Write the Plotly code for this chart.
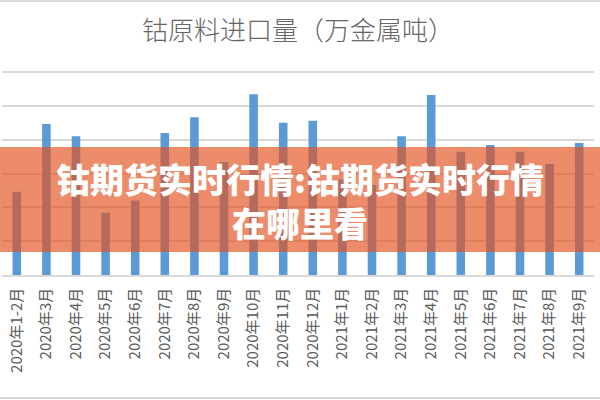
import plotly.graph_objects as go

categories = ["2020年1-2月", "2020年3月", "2020年4月", "2020年5月", "2020年6月",
              "2020年7月", "2020年8月", "2020年9月", "2020年10月", "2020年11月",
              "2020年12月", "2021年1月", "2021年2月", "2021年3月", "2021年4月",
              "2021年5月", "2021年6月", "2021年7月", "2021年8月", "2021年9月"]
imports = [1.23, 2.23, 2.05, 0.92, 1.10, 2.10, 2.33, 1.67, 2.67, 2.25,
           2.28, 1.41, 1.33, 2.05, 2.66, 1.82, 1.92, 1.82, 1.64, 1.95]

title_text = "钴原料进口量（万金属吨）"
overlay_text = "钴期货实时行情:钴期货实时行情<br>在哪里看"

W, H = 600, 400
ML, MR, MT, MB = 2, 6, 68, 125
pw = W - ML - MR
ph = H - MT - MB
y_top = 3 * ph / 203.0


def px_x(x):
    return (x - ML) / pw


def px_y(y):
    return (H - MB - y) / ph


fig = go.Figure()
fig.add_trace(go.Bar(x=categories, y=imports, marker=dict(color="#5B9BD5", line=dict(width=0)),
                     hoverinfo="skip"))

fig.update_layout(
    width=W, height=H,
    margin=dict(l=ML, r=MR, t=MT, b=MB),
    paper_bgcolor="white", plot_bgcolor="white",
    bargap=0.71,
    showlegend=False,
    font=dict(family="Noto Sans CJK SC", color="#595959"),
    title=dict(text=title_text, x=0.5, xanchor="center", y=1 - 31 / H, yanchor="middle",
               xref="paper", yref="container",
               font=dict(size=26, color="#666666", family="Noto Sans CJK SC", weight=300)),
    xaxis=dict(type="category", tickangle=-90, showline=True, linecolor="#d9d9d9", linewidth=1.5,
               ticks="", tickfont=dict(size=15, color="#595959"), ticklabelstandoff=5,
               showgrid=False, fixedrange=True, automargin=False),
    yaxis=dict(range=[0, y_top], tickvals=[0.5, 1, 1.5, 2, 2.5, 3], showgrid=True,
               gridcolor="#d9d9d9", gridwidth=1.5,
               showticklabels=False, zeroline=False, ticks="", fixedrange=True, automargin=False),
    shapes=[
        dict(type="rect", xref="paper", yref="paper", x0=px_x(0), x1=px_x(600),
             y0=px_y(252), y1=px_y(147), fillcolor="rgba(226,80,30,0.66)",
             line=dict(width=0), layer="above"),
        dict(type="line", xref="paper", yref="paper", x0=px_x(0), x1=px_x(600),
             y0=px_y(1), y1=px_y(1), line=dict(color="#d9d9d9", width=2), layer="above"),
        dict(type="line", xref="paper", yref="paper", x0=px_x(0), x1=px_x(600),
             y0=px_y(398), y1=px_y(398), line=dict(color="#d9d9d9", width=2), layer="above"),
    ],
    annotations=[
        dict(text=overlay_text, xref="paper", yref="paper", x=px_x(300), y=px_y(200),
             xanchor="center", yanchor="middle", showarrow=False, align="center",
             font=dict(size=34, color="white", family="Noto Sans CJK SC", weight=900))
    ],
)

fig.write_html("out.html", config={"displayModeBar": False},
               post_script="document.body.style.margin='0';")
